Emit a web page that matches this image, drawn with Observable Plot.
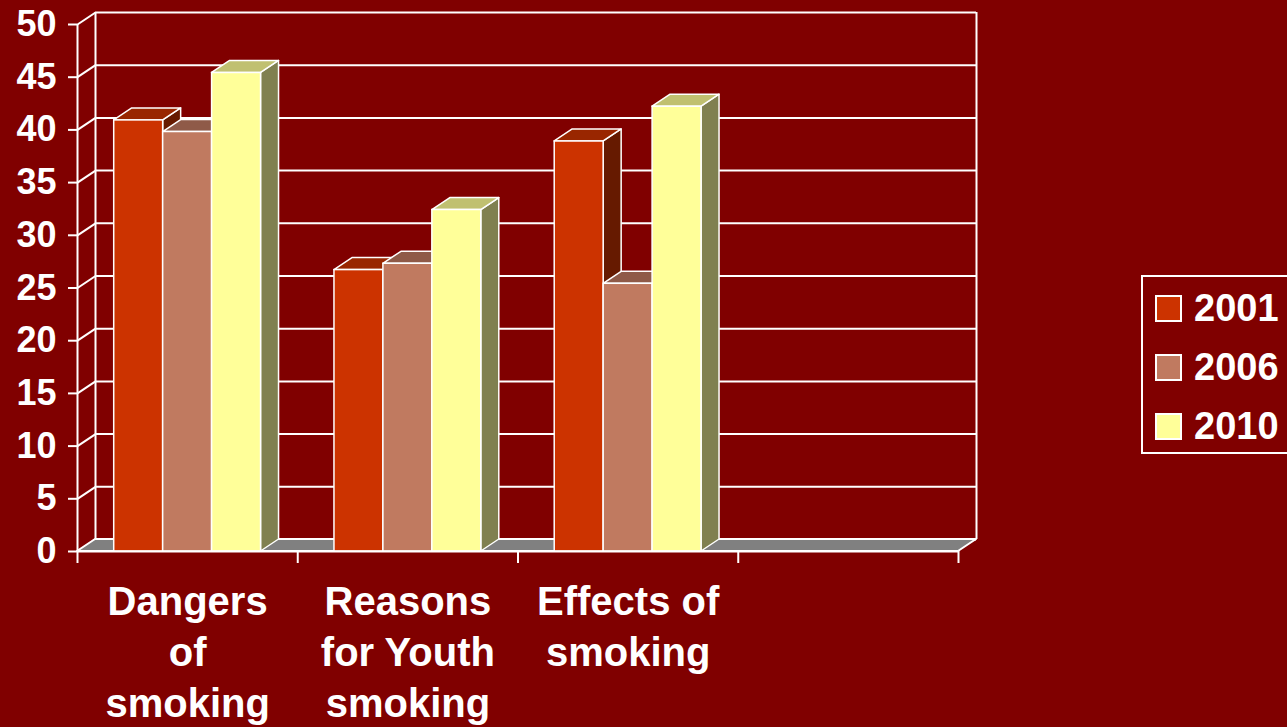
<!DOCTYPE html>
<html>
<head>
<meta charset="utf-8">
<script src="https://cdn.jsdelivr.net/npm/d3@7"></script>
<script src="https://cdn.jsdelivr.net/npm/@observablehq/plot@0.6"></script>
<style>
  html, body { margin: 0; padding: 0; background: #800000; overflow: hidden; }
  #chart { position: relative; width: 1287px; height: 727px; overflow: hidden; font-family: "Liberation Sans", Arial, sans-serif; }
  #legend { position: absolute; left: 1141px; top: 275px; width: 180px; height: 179px;
            border: 2px solid #fff; box-sizing: border-box; }
  #legend .item { position: absolute; left: 12px; height: 30px; display: flex; align-items: center; }
  #legend .sw { width: 23px; height: 23px; border: 2px solid #fff; margin-right: 12px; }
  #legend .lab { color: #fff; font-weight: bold; font-size: 38px; line-height: 30px; }
</style>
</head>
<body>
<div id="chart"></div>
<script>
// Survey topics (4th slot on the axis is left empty)
const categories = ["Dangers\nof\nsmoking", "Reasons\nfor Youth\nsmoking", "Effects of\nsmoking"];
const years = ["2001", "2006", "2010"];
const v2001 = [40.9, 26.7, 38.9];
const v2006 = [39.8, 27.3, 25.4];
const v2010 = [45.4, 32.4, 42.2];
const yTicks = [0, 5, 10, 15, 20, 25, 30, 35, 40, 45, 50];
const xTicks = [0, 1, 2, 3, 4];

// Face colours per series: front, top, side
const frontColors = ["#CC3300", "#C07A60", "#FFFF99"];
const topColors   = ["#992600", "#8F5A48", "#C0C070"];
const sideColors  = ["#661A00", "#604030", "#808050"];

const W = 1287, H = 727;
const M = {top: 24, right: 329, bottom: 176, left: 77};
const slots = xTicks[xTicks.length - 1];
const yMax = yTicks[yTicks.length - 1];

// 3D depth of the box, expressed in data units of each scale
const kx = (W - M.left - M.right) / slots;
const ky = (H - M.top - M.bottom) / yMax;
const depthX = 18 / kx, depthY = 12 / ky;

const series = [v2001, v2006, v2010];
const barW = 2 / 9;
const bars = [];
categories.forEach((c, i) => series.forEach((vals, j) => {
  const x0 = i + (1 - barW * series.length) / 2 + j * barW;
  bars.push({id: `${i}-${j}`, j, x0, x1: x0 + barW, value: vals[i]});
}));

const topPts = bars.flatMap(b => [
  {id: b.id, j: b.j, y: b.value, x1: b.x0, x2: b.x1},
  {id: b.id, j: b.j, y: b.value + depthY, x1: b.x0 + depthX, x2: b.x1 + depthX}
]);
const sidePts = bars.flatMap(b => [
  {id: b.id, j: b.j, x: b.x1, y1: 0, y2: b.value},
  {id: b.id, j: b.j, x: b.x1 + depthX, y1: depthY, y2: b.value + depthY}
]);
const floorPts = [
  {y: 0, x1: 0, x2: slots},
  {y: depthY, x1: depthX, x2: slots + depthX}
];

const chart = Plot.plot({
  width: W,
  height: H,
  marginTop: M.top, marginRight: M.right, marginBottom: M.bottom, marginLeft: M.left,
  x: {domain: [0, slots], label: null},
  y: {domain: [0, yMax], label: null},
  color: {type: "identity"},
  style: {background: "transparent", color: "white", fontFamily: "'Liberation Sans', Arial, sans-serif", overflow: "visible"},
  marks: [
    // back wall grid and edges
    Plot.ruleY(yTicks, {y: d => d + depthY, x1: depthX, x2: slots + depthX, stroke: "white", strokeWidth: 2}),
    Plot.ruleX([depthX, slots + depthX], {x: d => d, y1: depthY, y2: yMax + depthY, stroke: "white", strokeWidth: 2}),
    // left wall
    Plot.link(yTicks, {x1: 0, y1: d => d, x2: depthX, y2: d => d + depthY, stroke: "white", strokeWidth: 2}),
    // floor
    Plot.areaX(floorPts, {y: "y", x1: "x1", x2: "x2", fill: "#808080", stroke: "white", strokeWidth: 2}),
    // bars: sides, tops, fronts
    Plot.areaY(sidePts, {x: "x", y1: "y1", y2: "y2", z: "id", fill: d => sideColors[d.j], stroke: "white", strokeWidth: 1.5}),
    Plot.areaX(topPts, {y: "y", x1: "x1", x2: "x2", z: "id", fill: d => topColors[d.j], stroke: "white", strokeWidth: 1.5}),
    Plot.rect(bars, {x1: "x0", x2: "x1", y1: 0, y2: "value", fill: d => frontColors[d.j], stroke: "white", strokeWidth: 1.5}),
    // axes
    Plot.ruleX([0], {y1: 0, y2: yMax, stroke: "white", strokeWidth: 2}),
    Plot.ruleY([0], {x1: 0, x2: slots, stroke: "white", strokeWidth: 2}),
    Plot.axisY(yTicks, {tickSize: 9, tickPadding: 12, fontSize: 36, fontWeight: "bold", strokeWidth: 2, label: null}),
    Plot.axisX(xTicks, {tickSize: 12, tickFormat: () => "", strokeWidth: 2, label: null}),
    Plot.text(categories, {x: (d, i) => i + 0.5, y: 0, text: d => d, dy: 27, lineAnchor: "top",
      fontSize: 40, fontWeight: "bold", fill: "white", lineHeight: 1.28})
  ]
});
document.getElementById("chart").append(chart);

// legend
const legend = document.createElement("div");
legend.id = "legend";
years.forEach((yr, j) => {
  const item = document.createElement("div");
  item.className = "item";
  item.style.top = (16 + j * 59) + "px";
  const sw = document.createElement("div");
  sw.className = "sw";
  sw.style.background = frontColors[j];
  const lab = document.createElement("span");
  lab.className = "lab";
  lab.textContent = yr;
  item.append(sw, lab);
  legend.append(item);
});
document.getElementById("chart").append(legend);
</script>
</body>
</html>
